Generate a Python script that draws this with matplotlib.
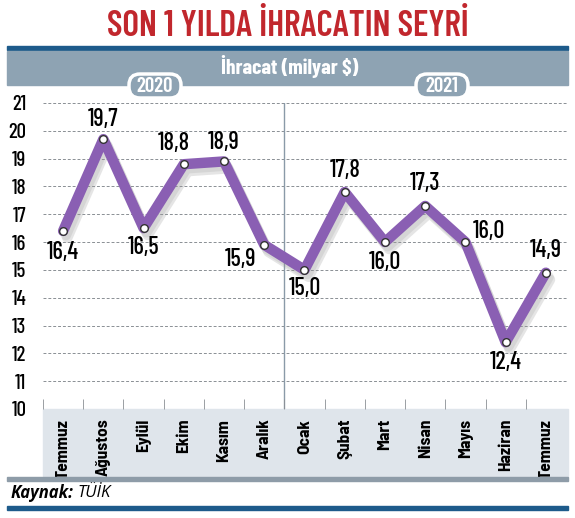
import matplotlib
matplotlib.use("Agg")
import matplotlib.pyplot as plt
import matplotlib.patheffects as pe
import matplotlib.transforms as mtransforms
from matplotlib.patches import Rectangle, FancyBboxPatch

months = ["Temmuz", "Ağustos", "Eylül", "Ekim", "Kasım", "Aralık", "Ocak",
          "Şubat", "Mart", "Nisan", "Mayıs", "Haziran", "Temmuz"]
exports = [16.4, 19.7, 16.5, 18.8, 18.9, 15.9, 15.0, 17.8, 16.0, 17.3, 16.0, 12.4, 14.9]
value_labels = ["16,4", "19,7", "16,5", "18,8", "18,9", "15,9", "15,0",
                "17,8", "16,0", "17,3", "16,0", "12,4", "14,9"]
years = ["2020", "2021"]

# label offsets in pixels (dx, dy), dy positive = up
offsets = [(0, -22), (0, 20), (0, -19), (-10, 21), (0, 19), (-24, -15), (0, -19),
           (0, 22), (0, -20), (0, 22), (23, 11), (0, -20), (0, 22)]

COND = "Barlow Condensed"
SEMI = "Barlow Semi Condensed"
plt.rcParams["font.family"] = [COND, "DejaVu Sans"]

W, H = 575, 518
fig = plt.figure(figsize=(W / 100, H / 100), dpi=100)
# pixel coordinates measured from the top-left corner
px = mtransforms.Affine2D().scale(1, -1).translate(0, H)


def box(x0, y0, x1, y1, color, z=1):
    fig.patches.append(Rectangle((x0, y0), x1 - x0, y1 - y0, transform=px,
                                 color=color, zorder=z))


ax = fig.add_axes([43 / W, 1 - 409 / H, (568 - 43) / W, (409 - 103) / H])

# header
fig.text(0.5, 1 - 26 / H, "SON 1 YILDA İHRACATIN SEYRİ", color="#c1272d",
         fontsize=25.5, fontweight="semibold", ha="center", va="center")
box(7, 46, 568, 50, "#1d5b8b")
box(7, 51, 568, 85, "#8ea3b3")
fig.text(290 / W, 1 - 67 / H, "İhracat (milyar $)", color="white", fontsize=15.5,
         fontweight="bold", ha="center", va="center")
for cx, yr in zip([155, 442], years):
    fig.patches.append(FancyBboxPatch((cx - 26, 74), 52, 24, transform=px,
                                      boxstyle="round,pad=0,rounding_size=11",
                                      facecolor="#8ea3b3", edgecolor="white",
                                      linewidth=2.5, zorder=2))
    fig.text(cx / W, 1 - 86 / H, yr, color="white", fontsize=15, fontweight="semibold",
             ha="center", va="center", zorder=3)

# month band and footer
box(43, 409, 568, 476, "#dfe5eb", z=-1)
box(7, 477, 568, 481, "#8e9ca8")
box(7, 506, 568, 510, "#1d5b8b")
src = fig.text(11 / W, 1 - 493 / H, "Kaynak:", fontsize=12, fontweight="bold",
               style="italic", family=["Open Sans", "DejaVu Sans"], ha="left", va="center")
ax.annotate("TÜİK", xy=(1, 0.5), xycoords=src, xytext=(4, 0), textcoords="offset pixels",
            fontsize=12, style="italic", family=["Open Sans", "DejaVu Sans"],
            ha="left", va="center", annotation_clip=False)

x = list(range(len(months)))
ax.set_xlim(-0.5, 12.55)
ax.set_ylim(10, 21)
ax.patch.set_alpha(0)
for v in range(10, 22):
    ax.axhline(v, color="#8a8f94", lw=0.7, ls=(0, (3, 2)), zorder=1)
ax.axvline(5.5, color="#8a9aa8", lw=1, zorder=1)

ax.plot(x, exports, color="#8a5fb3", lw=7.5, solid_joinstyle="round",
        solid_capstyle="round", zorder=3,
        path_effects=[pe.SimpleLineShadow(offset=(3, -5), shadow_color="#999999", alpha=0.25),
                      pe.SimpleLineShadow(offset=(2, -3), shadow_color="#999999", alpha=0.2),
                      pe.Normal()])
ax.plot(x, exports, ls="none", marker="o", ms=5.5, mfc="white", mec="#333333",
        mew=1, zorder=4)
for xi, v, lab, (dx, dy) in zip(x, exports, value_labels, offsets):
    ax.annotate(lab, (xi, v), xytext=(dx, dy), textcoords="offset pixels",
                ha="center", va="center", fontsize=17.5, fontweight="medium", zorder=5)

for s in ax.spines.values():
    s.set_visible(False)
ax.set_yticks(range(10, 22))
ax.tick_params(axis="y", length=0, pad=12, labelsize=15)
for t in ax.get_yticklabels():
    t.set_fontweight("medium")
ax.set_xticks(x)
ax.set_xticklabels(months, rotation=90, fontsize=12.5, fontweight="bold", va="top",
                   family=[SEMI, "DejaVu Sans"])
ax.tick_params(axis="x", which="major", length=0, pad=7)
ax.set_xticks([i - 0.5 for i in range(13)], minor=True)
ax.tick_params(axis="x", which="minor", direction="in", length=7, color="#8a8f94")

fig.savefig("out.png", dpi=100)
